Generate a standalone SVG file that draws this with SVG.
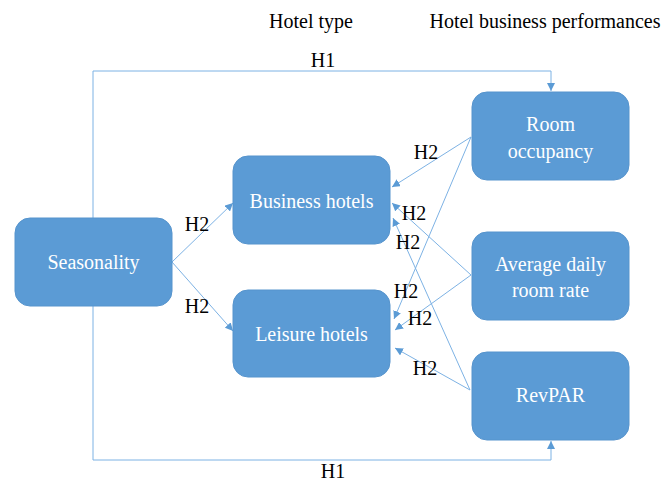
<svg xmlns="http://www.w3.org/2000/svg" width="663" height="483" viewBox="0 0 663 483">
<style>
.box{fill:#5B9BD5;stroke:#5694CD;stroke-width:1}
.bt{font-family:"Liberation Serif","Times New Roman",serif;font-size:20px;fill:#fff;text-anchor:middle}
.lb{font-family:"Liberation Serif","Times New Roman",serif;font-size:20px;fill:#000;text-anchor:middle}
.ln{fill:none;stroke:#7DB2E4;stroke-width:1}
</style>
<defs>
<marker id="ah" viewBox="0 0 10 10" refX="10" refY="5" markerWidth="8" markerHeight="8" orient="auto" markerUnits="userSpaceOnUse">
<path d="M0,0 L10,5 L0,10 z" fill="#5B9BD5"/>
</marker>
</defs>
<text class="lb" x="311" y="28">Hotel type</text>
<text class="lb" x="545" y="28">Hotel business performances</text>
<g id="connectors">
<path class="ln" d="M93,218 V71 H551 V91" marker-end="url(#ah)"/>
<path class="ln" d="M93,306 V460 H551 V441" marker-end="url(#ah)"/>
<line class="ln" x1="172" y1="262" x2="233" y2="203" marker-end="url(#ah)"/>
<line class="ln" x1="172" y1="262" x2="233" y2="331" marker-end="url(#ah)"/>
<line class="ln" x1="471" y1="137" x2="392" y2="187" marker-end="url(#ah)"/>
<line class="ln" x1="471" y1="137" x2="394" y2="319" marker-end="url(#ah)"/>
<line class="ln" x1="471" y1="275" x2="392" y2="203" marker-end="url(#ah)"/>
<line class="ln" x1="471" y1="275" x2="395" y2="330" marker-end="url(#ah)"/>
<line class="ln" x1="470" y1="390" x2="393" y2="218" marker-end="url(#ah)"/>
<line class="ln" x1="470" y1="390" x2="395" y2="348" marker-end="url(#ah)"/>
<text class="lb" x="323" y="67">H1</text>
<text class="lb" x="333" y="478">H1</text>
<text class="lb" x="197" y="231">H2</text>
<text class="lb" x="197" y="313">H2</text>
<text class="lb" x="426" y="159">H2</text>
<text class="lb" x="414" y="220">H2</text>
<text class="lb" x="408" y="249">H2</text>
<text class="lb" x="406" y="298">H2</text>
<text class="lb" x="420" y="325">H2</text>
<text class="lb" x="425" y="375">H2</text>
</g>
<g id="seasonality"><rect class="box" x="15" y="218" width="157" height="88" rx="15"/><text class="bt" x="93.5" y="269">Seasonality</text></g>
<g id="business"><rect class="box" x="233" y="156" width="157" height="88" rx="15"/><text class="bt" x="311.5" y="208">Business hotels</text></g>
<g id="leisure"><rect class="box" x="233" y="290" width="157" height="87" rx="15"/><text class="bt" x="311.5" y="341">Leisure hotels</text></g>
<g id="occupancy"><rect class="box" x="472" y="92" width="157" height="88" rx="15"/><text class="bt" x="550.5" y="131">Room</text><text class="bt" x="550.5" y="158">occupancy</text></g>
<g id="adr"><rect class="box" x="472" y="232" width="157" height="88" rx="15"/><text class="bt" x="550.5" y="271">Average daily</text><text class="bt" x="550.5" y="297">room rate</text></g>
<g id="revpar"><rect class="box" x="472" y="352" width="157" height="88" rx="15"/><text class="bt" x="550.5" y="402">RevPAR</text></g>
</svg>
